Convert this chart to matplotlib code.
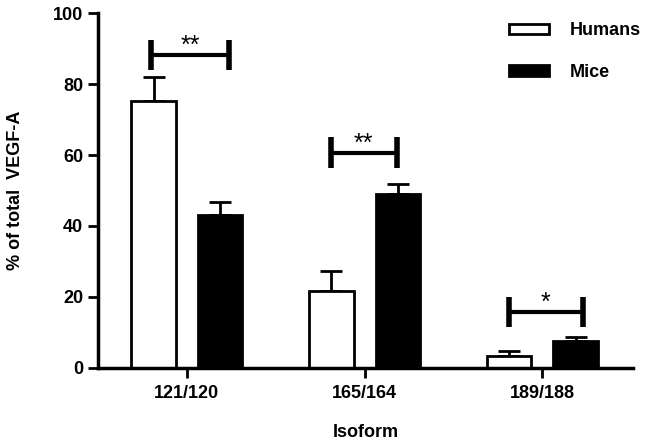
import numpy as np
import matplotlib
matplotlib.use("Agg")
import matplotlib.pyplot as plt
import matplotlib as mpl

mpl.rcParams['font.family'] = ['Liberation Sans', 'DejaVu Sans']
mpl.rcParams['font.weight'] = 'bold'
mpl.rcParams['axes.labelweight'] = 'bold'

isoforms = ['121/120', '165/164', '189/188']
humans = [75.2, 21.7, 3.4]
humans_err = [6.8, 5.6, 1.4]
mice = [43.1, 49.0, 7.6]
mice_err = [3.7, 2.8, 1.0]
stars = ['**', '**', '*']
bracket_y = [88.2, 60.7, 15.8]
bracket_x = [(-0.2, 0.24), (0.81, 1.18), (1.81, 2.23)]

x = np.arange(len(isoforms))
w = 0.25
off = 0.187

fig = plt.figure(figsize=(6.48, 4.4), dpi=100)
ax = fig.add_axes([0.151, 0.164, 0.826, 0.806])

ax.bar(x - off, humans, w, color='white', edgecolor='black', linewidth=2, label='Humans', zorder=2)
ax.bar(x + off, mice, w, color='black', edgecolor='black', linewidth=2, label='Mice', zorder=2)
ax.errorbar(x - off, humans, yerr=[np.zeros(3), humans_err], fmt='none', ecolor='black',
            elinewidth=2, capsize=8, capthick=2, zorder=1)
ax.errorbar(x + off, mice, yerr=[np.zeros(3), mice_err], fmt='none', ecolor='black',
            elinewidth=2, capsize=8, capthick=2, zorder=1)

for (x0, x1), y, s in zip(bracket_x, bracket_y, stars):
    ax.plot([x0, x1], [y, y], color='black', lw=3, solid_capstyle='butt')
    ax.plot([x0, x0], [y - 4.3, y + 4.3], color='black', lw=4, solid_capstyle='butt')
    ax.plot([x1, x1], [y - 4.3, y + 4.3], color='black', lw=4, solid_capstyle='butt')
    ax.text((x0 + x1) / 2, y - 0.8, s, ha='center', va='bottom', fontsize=18, fontweight='normal')

ax.set_xlim(-0.5, 2.51)
ax.set_ylim(0, 100)
ax.set_yticks(range(0, 101, 20))
ax.set_xticks(x)
ax.set_xticklabels(isoforms)
ax.tick_params(axis='both', width=2, length=7, labelsize=13)
ax.tick_params(axis='x', pad=5)
for sp in ['top', 'right']:
    ax.spines[sp].set_visible(False)
for sp in ['left', 'bottom']:
    ax.spines[sp].set_linewidth(2.5)

ax.set_ylabel('% of total  VEGF-A', fontsize=13, labelpad=21)
ax.set_xlabel('Isoform', fontsize=13, labelpad=16)

leg = ax.legend(loc='upper right', bbox_to_anchor=(1.045, 1.02), frameon=False, fontsize=13,
                handlelength=2.2, handleheight=0.55, labelspacing=1.35, handletextpad=1.15)

fig.savefig('out.png', dpi=100)
